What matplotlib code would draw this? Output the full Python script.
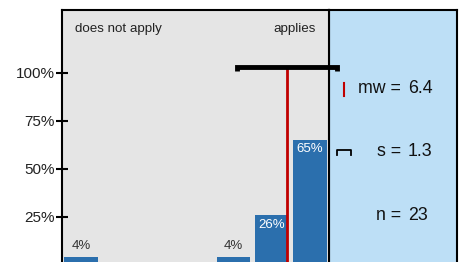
import matplotlib.pyplot as plt
import numpy as np

plt.rcParams['font.family'] = ['Liberation Sans', 'DejaVu Sans']

# data
scale_points = [1, 2, 3, 4, 5, 6, 7]
counts = [1, 0, 0, 0, 1, 6, 15]
n_total = sum(counts)
shares = [c / n_total for c in counts]
mean_val = 6.4
sd_val = 1.3
y_ticks = [0.25, 0.50, 0.75, 1.00]
y_tick_labels = ["25%", "50%", "75%", "100%"]
left_label = "does not apply"
right_label = "applies"

BAR = "#2b6fad"
RED = "#c00000"
BG = "#e5e5e5"
PANEL = "#bddff6"

W, H = 464, 262
fig = plt.figure(figsize=(W / 100, H / 100), dpi=100)

def box(x0, x1, y_top, y_bottom):
    return [x0 / W, 1 - y_bottom / H, (x1 - x0) / W, (y_bottom - y_top) / H]

ax = fig.add_axes(box(62, 329, 10, 265))
ax.set_facecolor(BG)
ax.bar(scale_points, shares, width=0.87, color=BAR, zorder=2)
ax.set_xlim(0.5, 7.5)
ax.set_ylim(0, 1.328)
ax.set_xticks([])
ax.set_yticks(y_ticks)
ax.set_yticklabels(y_tick_labels, fontsize=11, color="#222222")
ax.tick_params(axis="y", direction="inout", length=8, width=1.5, pad=1)
for side in ["left", "top", "right"]:
    ax.spines[side].set_linewidth(1.5)
ax.spines["bottom"].set_visible(False)

for x, s in zip(scale_points, shares):
    if s == 0:
        continue
    pct = f"{round(s * 100):.0f}%"
    if s > 0.15:
        ax.text(x, s - 0.05, pct, ha="center", va="center", color="white", fontsize=9.5, zorder=3)
    else:
        ax.text(x, s + 0.057, pct, ha="center", va="center", color="#333333", fontsize=9.5, zorder=3)

ax.text(0.05, 0.925, left_label, transform=ax.transAxes, ha="left", va="center", fontsize=9.6, color="#222222")
ax.text(0.95, 0.925, right_label, transform=ax.transAxes, ha="right", va="center", fontsize=9.6, color="#222222")

# mean line and sd bracket
ax.plot([mean_val - 0.01, mean_val - 0.01], [0, 1.03], color=RED, lw=2, zorder=4)
lo, hi = mean_val - sd_val, mean_val + sd_val
ax.plot([lo, lo, hi, hi], [1.01, 1.03, 1.03, 1.01], color="black", lw=3.5,
        solid_joinstyle="miter", solid_capstyle="butt", clip_on=False, zorder=5)

# stats panel
ax2 = fig.add_axes(box(329, 457, 10, 265))
ax2.set_facecolor(PANEL)
ax2.set_xlim(0, 1)
ax2.set_ylim(0, 1)
ax2.set_xticks([])
ax2.set_yticks([])
for side in ["left", "top", "right"]:
    ax2.spines[side].set_linewidth(1.5)
ax2.spines["bottom"].set_visible(False)
ax2.set_zorder(-1)

rows = [("mw =", f"{mean_val:.1f}", 88), ("s =", f"{sd_val:.1f}", 151), ("n =", f"{n_total}", 215)]
for lab, val, ypx in rows:
    yy = (265 - ypx) / 255
    ax2.text((401 - 329) / 128, yy, lab, ha="right", va="center", fontsize=12.8, color="#111111")
    ax2.text((408 - 329) / 128, yy, val, ha="left", va="center", fontsize=12.8, color="#111111")

# legend glyphs
xr = (344.5 - 329) / 128
ax2.plot([xr, xr], [(265 - 96) / 255, (265 - 83) / 255], color=RED, lw=1.5)
ax2.plot([(337 - 329) / 128, (337 - 329) / 128, (351 - 329) / 128, (351 - 329) / 128],
         [(265 - 155) / 255, (265 - 150) / 255, (265 - 150) / 255, (265 - 155) / 255],
         color="black", lw=1.3)

fig.savefig("out.png", dpi=100)
